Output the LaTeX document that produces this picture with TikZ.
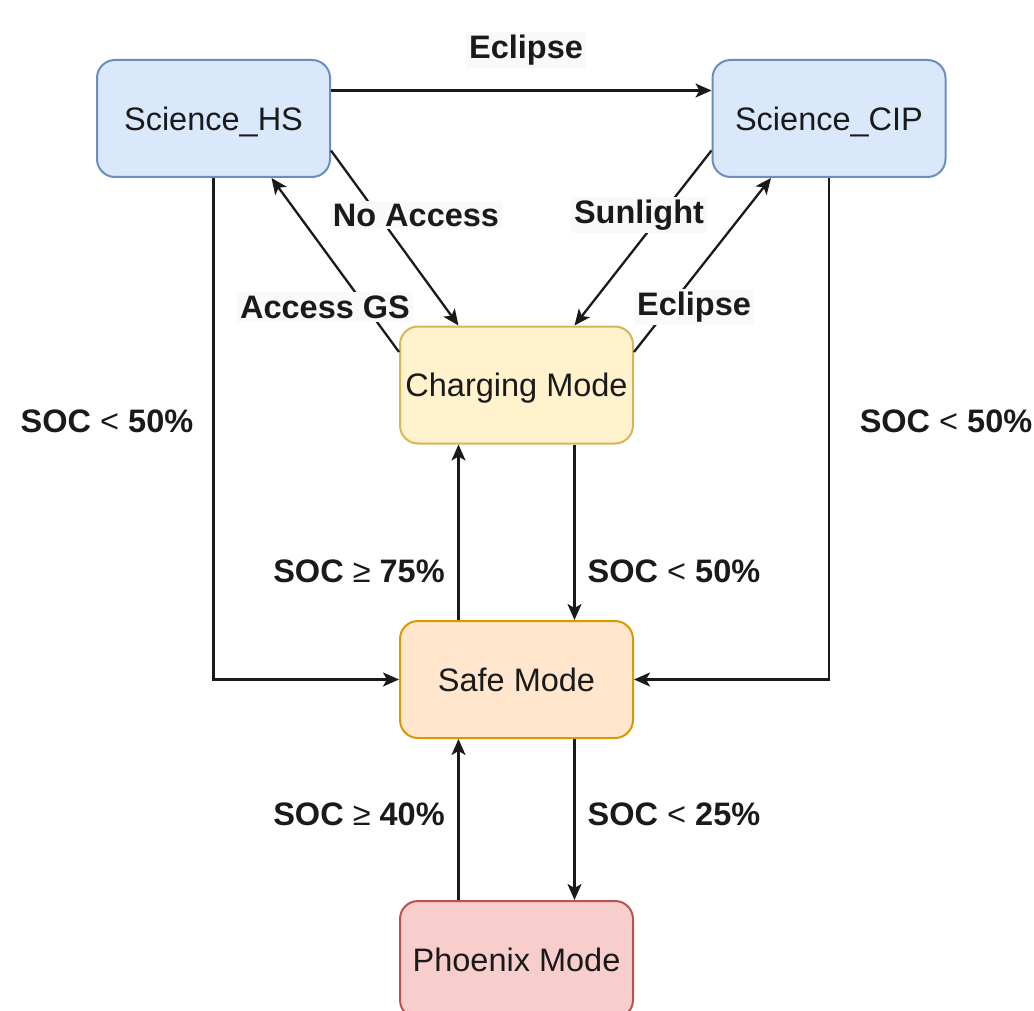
\documentclass[tikz,border=0pt]{standalone}
\usepackage{fontspec}
\setmainfont{Liberation Sans}
\usetikzlibrary{arrows.meta}

\definecolor{bluefill}{HTML}{DAE8FC}\definecolor{bluedraw}{HTML}{6C8EBF}
\definecolor{yelfill}{HTML}{FFF2CC}\definecolor{yeldraw}{HTML}{D6B656}
\definecolor{orafill}{HTML}{FFE6CC}\definecolor{oradraw}{HTML}{D79B00}
\definecolor{redfill}{HTML}{F8CECC}\definecolor{reddraw}{HTML}{B85450}
\definecolor{ink}{HTML}{1A1A1A}
\definecolor{labelbg}{HTML}{F8F9FA}

\tikzset{
  state/.style={draw, line width=2pt, rounded corners=18pt, inner sep=0pt,
    minimum width=233pt, minimum height=117pt, text=ink,
    text height=23.5pt, text depth=0pt,
    font=\fontsize{32.5}{39}\selectfont},
  conn/.style={draw=ink, line width=2.3pt,
    -{Stealth[length=16pt,width=14pt,inset=4pt]}},
  tag/.style={text=ink, inner sep=3pt, font=\fontsize{32.5}{39}\selectfont\bfseries},
  tagbg/.style={tag, fill=labelbg},
}
\newcommand{\socless}{{\mdseries <}}
\newcommand{\socgeq}{{\mdseries ≥}}

\begin{document}
\begin{tikzpicture}[x=1pt, y=-1pt]
  \useasboundingbox (0,0) rectangle (1034,1011);
  \clip (0,0) rectangle (1034,1011);

  % states
  \node[state, fill=bluefill, draw=bluedraw] (hs)  at (213.5,118.5) {Science\_HS};
  \node[state, fill=bluefill, draw=bluedraw] (cip) at (829,118.5) {Science\_CIP};
  \node[state, fill=yelfill, draw=yeldraw]   (chg) at (516.5,385) {Charging Mode};
  \node[state, fill=orafill, draw=oradraw]   (safe) at (516.5,679.5) {Safe Mode};
  \node[state, fill=redfill, draw=reddraw]   (phx) at (516.5,959.5) {Phoenix Mode};

  % transitions between the science modes and charging
  \draw[conn] ([yshift=28pt]hs.east) -- ([yshift=28pt]cip.west);
  \draw[conn] ([yshift=-32pt]hs.east) -- ([xshift=-58pt]chg.north);
  \draw[conn] ([yshift=33pt]chg.west) -- ([xshift=58pt]hs.south);
  \draw[conn] ([yshift=-32pt]cip.west) -- ([xshift=58pt]chg.north);
  \draw[conn] ([yshift=33pt]chg.east) -- ([xshift=-58pt]cip.south);

  % transitions into safe mode from science
  \draw[conn] (hs.south) |- (safe.west);
  \draw[conn] (cip.south) |- (safe.east);

  % charging <-> safe
  \draw[conn] ([xshift=-58pt]safe.north) -- ([xshift=-58pt]chg.south);
  \draw[conn] ([xshift=58pt]chg.south) -- ([xshift=58pt]safe.north);

  % safe <-> phoenix
  \draw[conn] ([xshift=-58pt]phx.north) -- ([xshift=-58pt]safe.south);
  \draw[conn] ([xshift=58pt]safe.south) -- ([xshift=58pt]phx.north);

  % transition labels
  \node[tagbg] (l-ecl1) at (526,50)  {Eclipse};
  \node[tagbg] (l-noac) at (416,215) {No Access};
  \node[tagbg] (l-acgs) at (325,307) {Access GS};
  \node[tagbg] (l-sun)  at (639,215) {Sunlight};
  \node[tagbg] (l-ecl2) at (694,307) {Eclipse};
  \node[tag] (l-hs)   at (107,421) {SOC \socless{} 50\%};
  \node[tag] (l-cip)  at (946,421) {SOC \socless{} 50\%};
  \node[tag] (l-up1)  at (359,571) {SOC \socgeq{} 75\%};
  \node[tag] (l-dn1)  at (674,571) {SOC \socless{} 50\%};
  \node[tag] (l-up2)  at (359,814) {SOC \socgeq{} 40\%};
  \node[tag] (l-dn2)  at (674,814) {SOC \socless{} 25\%};
\end{tikzpicture}
\end{document}
